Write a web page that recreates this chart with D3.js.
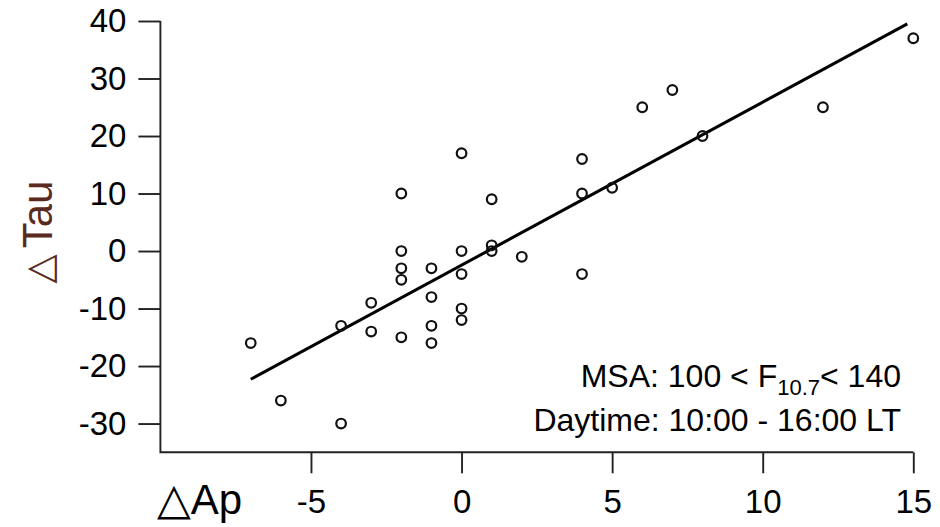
<!DOCTYPE html>
<html>
<head>
<meta charset="utf-8">
<script src="https://cdn.jsdelivr.net/npm/d3@7"></script>
<style>
body { margin: 0; background: #fff; }
text { font-family: "Liberation Sans", Arial, sans-serif; }
</style>
</head>
<body>
<script>
// observations: change in Ap vs change in Tau
var dAp  = [-7, -6, -4, -4, -3, -3, -2, -2, -2, -2, -2, -1, -1, -1, -1, 0, 0, 0, 0, 0, 1, 1, 1, 2, 4, 4, 4, 5, 6, 7, 8, 12, 15]
var dTau = [-16, -26, -30, -13, -9, -14, 10, 0, -3, -5, -15, -3, -8, -13, -16, 17, 0, -4, -10, -12, 9, 1, 0, -1, 16, 10, -4, 11, 25, 28, 20, 25, 37]

// fitted regression line end points
var fitAp  = [-7, 14.8]
var fitTau = [-22.3, 39.5]

var xTicks = [-5, 0, 5, 10, 15]
var yTicks = [-30, -20, -10, 0, 10, 20, 30, 40]
var xDomain = [-10, 15]
var yDomain = [-35, 40]

var width = 940
var height = 527
var plotLeft = 160.4, plotRight = 913.3, plotTop = 21, plotBottom = 452.3
var axisColor = "#222"

var x = d3.scaleLinear()
.domain(xDomain)
.range([plotLeft, plotRight]);

var y = d3.scaleLinear()
.domain(yDomain)
.range([plotBottom, plotTop]);

var svg = d3.select("body").append("svg")
.attr("width", width)
.attr("height", height)

// y axis ticks + labels
var gy = svg.append("g")
.attr("transform", "translate(" + plotLeft + ",0)")
.call(d3.axisLeft(y).tickValues(yTicks).tickSize(22).tickPadding(12).tickFormat(function(d) { return String(d) }))
gy.select(".domain").remove()

// x axis ticks + labels
var gx = svg.append("g")
.attr("transform", "translate(0," + plotBottom + ")")
.call(d3.axisBottom(x).tickValues(xTicks).tickSize(21).tickPadding(16).tickFormat(function(d) { return String(d) }))
gx.select(".domain").remove()

svg.selectAll(".tick line").attr("stroke", axisColor).attr("stroke-width", 1.9)
svg.selectAll(".tick text")
.attr("fill", "#000")
.style("font-size", "33px")
.style("font-family", "'Liberation Sans', Arial, sans-serif")

// L shaped frame
svg.append("path")
.attr("d", "M" + x(xDomain[0]) + "," + y(yTicks[yTicks.length - 1]) + "V" + y(yDomain[0]) + "H" + x(xDomain[1]))
.attr("fill", "none")
.attr("stroke", axisColor)
.attr("stroke-width", 1.9)

// regression line
var line = d3.line()
.x(function(d) { return x(d[0]) })
.y(function(d) { return y(d[1]) })

svg.append("path")
.datum(d3.zip(fitAp, fitTau))
.attr("d", line)
.attr("fill", "none")
.attr("stroke", "#000")
.attr("stroke-width", 3)

// points
svg.append("g")
.selectAll("circle")
.data(d3.zip(dAp, dTau))
.enter().append("circle")
.attr("cx", function(d) { return x(d[0]) })
.attr("cy", function(d) { return y(d[1]) })
.attr("r", 4.8)
.attr("fill", "none")
.attr("stroke", "#111")
.attr("stroke-width", 2.2)

// annotation
var note1 = svg.append("text")
.attr("x", 901)
.attr("y", 387)
.attr("text-anchor", "end")
.style("font-size", "32px")
.attr("fill", "#000")
note1.append("tspan").text("MSA: 100 < F")
note1.append("tspan").attr("dy", 8).style("font-size", "22px").text("10.7")
note1.append("tspan").attr("dy", -8).text("< 140")

svg.append("text")
.attr("x", 901)
.attr("y", 431)
.attr("text-anchor", "end")
.style("font-size", "32px")
.attr("fill", "#000")
.text("Daytime: 10:00 - 16:00 LT")

// axis titles
var xt = svg.append("text")
.attr("x", 157)
.attr("y", 514)
.style("font-size", "42px")
.attr("fill", "#000")
xt.append("tspan").style("font-family", "'DejaVu Sans'").style("font-size", "44px").text("\u25B3")
xt.append("tspan").text("Ap")

var yt = svg.append("text")
.attr("transform", "translate(52,232) rotate(-90)")
.attr("text-anchor", "middle")
.style("font-size", "42px")
.attr("fill", "#5a2a20")
yt.append("tspan").style("font-family", "'DejaVu Sans'").style("font-size", "38px").text("\u25B3")
yt.append("tspan").attr("dx", 6).text("Tau")
</script>
</body>
</html>
